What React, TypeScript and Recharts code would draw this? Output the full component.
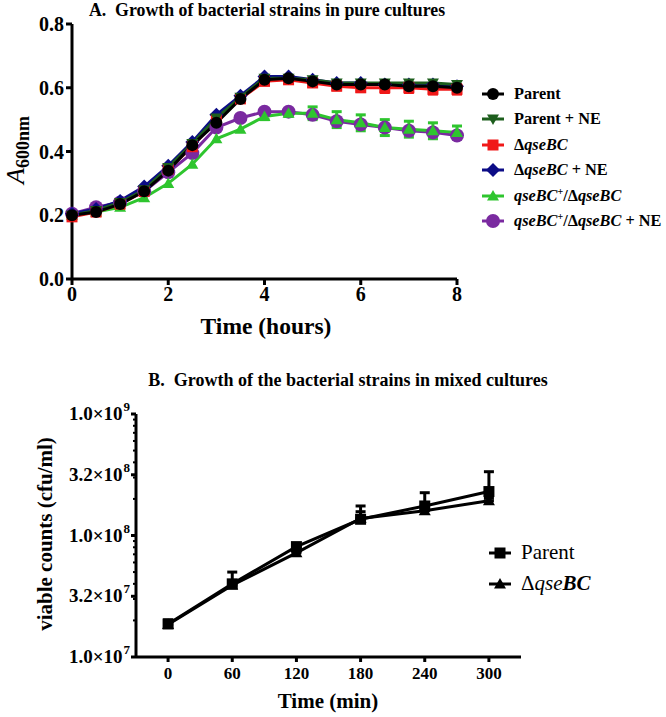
import React from 'react'
import { LineChart, Line, XAxis, YAxis, ErrorBar } from 'recharts'

const serif = "'Liberation Serif', 'DejaVu Serif', serif"

// panel A: absorbance in pure cultures
const hours = [0, 0.5, 1, 1.5, 2, 2.5, 3, 3.5, 4, 4.5, 5, 5.5, 6, 6.5, 7, 7.5, 8]
const parent = [0.2, 0.21, 0.235, 0.275, 0.34, 0.42, 0.49, 0.565, 0.625, 0.63, 0.62, 0.61, 0.61, 0.61, 0.605, 0.605, 0.6]
const parentNE = [0.2, 0.215, 0.24, 0.28, 0.35, 0.425, 0.505, 0.57, 0.63, 0.63, 0.625, 0.615, 0.615, 0.615, 0.615, 0.615, 0.61]
const dQse = [0.195, 0.21, 0.235, 0.275, 0.345, 0.415, 0.5, 0.565, 0.62, 0.625, 0.615, 0.605, 0.6, 0.6, 0.6, 0.595, 0.595]
const dQseErr = [0, 0, 0, 0, 0, 0, 0, 0, 0, 0, 0.01, 0.012, 0.012, 0.015, 0.015, 0.015, 0.015]
const dQseNE = [0.205, 0.22, 0.245, 0.29, 0.355, 0.43, 0.515, 0.575, 0.635, 0.635, 0.625, 0.615, 0.615, 0.61, 0.61, 0.61, 0.605]
const comp = [0.2, 0.21, 0.225, 0.255, 0.3, 0.36, 0.44, 0.47, 0.51, 0.52, 0.52, 0.5, 0.49, 0.475, 0.47, 0.465, 0.46]
const compErr = [0, 0, 0, 0, 0, 0, 0, 0, 0.01, 0.01, 0.02, 0.025, 0.025, 0.025, 0.025, 0.025, 0.02]
const compNE = [0.205, 0.225, 0.24, 0.275, 0.335, 0.395, 0.475, 0.505, 0.525, 0.525, 0.515, 0.495, 0.485, 0.475, 0.465, 0.46, 0.45]
const aTicks = [0, 0.2, 0.4, 0.6, 0.8]
const hourTicks = [0, 2, 4, 6, 8]

// panel B: viable counts in mixed cultures
const minutes = [0, 60, 120, 180, 240, 300]
const parentCfu = [1.87e7, 4.0e7, 8.1e7, 1.36e8, 1.75e8, 2.3e8]
const parentCfuErr = [0.15e7, 1.0e7, 0.2e7, 0.39e8, 0.5e8, 1.05e8]
const dQseCfu = [1.85e7, 3.9e7, 7.2e7, 1.38e8, 1.6e8, 1.93e8]
const dQseCfuErr = [0.1e7, 0.2e7, 0.2e7, 0.19e8, 0.1e8, 0.1e8]
const minuteTicks = [0, 60, 120, 180, 240, 300]
const cfuMajor = [1e7, 3.16e7, 1e8, 3.16e8, 1e9]
const cfuMantissa = ['1.0', '3.2', '1.0', '3.2', '1.0']
const cfuExponent = ['7', '7', '8', '8', '9']
const cfuMinor = [2e7, 3e7, 4e7, 5e7, 6e7, 7e7, 8e7, 9e7, 2e8, 3e8, 4e8, 5e8, 6e8, 7e8, 8e8, 9e8]

const dataA = hours.map((h, i) => ({
	h,
	parent: parent[i],
	parentNE: parentNE[i],
	dQse: dQse[i],
	dQseErr: dQseErr[i],
	dQseNE: dQseNE[i],
	comp: comp[i],
	compErr: compErr[i],
	compNE: compNE[i],
}))

const dataB = minutes.map((m, i) => ({
	m,
	parent: parentCfu[i],
	parentErr: [0, parentCfuErr[i]],
	dQse: dQseCfu[i],
	dQseErr: [0, dQseCfuErr[i]],
}))

type Kind = 'circle' | 'square' | 'diamond' | 'triUp' | 'triDown'

const Marker = ({ kind, cx, cy, fill, s }: { kind: Kind; cx: number; cy: number; fill: string; s: number }) => {
	if (cx == null || cy == null) return null
	if (kind === 'circle') return <circle cx={cx} cy={cy} r={s} fill={fill} />
	if (kind === 'square') return <rect x={cx - s} y={cy - s} width={s * 2} height={s * 2} fill={fill} />
	if (kind === 'diamond')
		return <polygon points={`${cx},${cy - s} ${cx + s},${cy} ${cx},${cy + s} ${cx - s},${cy}`} fill={fill} />
	if (kind === 'triUp')
		return <polygon points={`${cx},${cy - s} ${cx + s},${cy + s * 0.75} ${cx - s},${cy + s * 0.75}`} fill={fill} />
	return <polygon points={`${cx},${cy + s} ${cx + s},${cy - s * 0.75} ${cx - s},${cy - s * 0.75}`} fill={fill} />
}

const dotOf = (kind: Kind, fill: string, s: number) => (p: any) =>
	<Marker key={`d-${p.index}`} kind={kind} cx={p.cx} cy={p.cy} fill={fill} s={s} />

const LegendIcon = ({ kind, color, s }: { kind: Kind; color: string; s: number }) => (
	<svg width={26} height={18} style={{ display: 'block' }}>
		<line x1={2} x2={24} y1={9} y2={9} stroke={color} strokeWidth={3} />
		<Marker kind={kind} cx={13} cy={9} fill={color} s={s} />
	</svg>
)

const legendA = [
	{ kind: 'circle' as Kind, color: '#000000', s: 6, label: <b>Parent</b> },
	{ kind: 'triDown' as Kind, color: '#1d5e1d', s: 6, label: <b>Parent + NE</b> },
	{ kind: 'square' as Kind, color: '#f01818', s: 5.5, label: <b>Δ<i>qseBC</i></b> },
	{ kind: 'diamond' as Kind, color: '#0c0c86', s: 7, label: <b>Δ<i>qseBC</i> + NE</b> },
	{
		kind: 'triUp' as Kind,
		color: '#2ec52e',
		s: 6,
		label: (
			<b>
				<i>qseBC</i>
				<sup style={{ fontSize: 10 }}>+</sup>/Δ<i>qseBC</i>
			</b>
		),
	},
	{
		kind: 'circle' as Kind,
		color: '#7a2aa0',
		s: 7,
		label: (
			<b>
				<i>qseBC</i>
				<sup style={{ fontSize: 10 }}>+</sup>/Δ<i>qseBC</i> + NE
			</b>
		),
	},
]

const LogTick = (props: any) => {
	const { x, y, payload } = props
	const i = cfuMajor.indexOf(payload.value)
	if (i < 0) return <line x1={x} x2={x - 3} y1={y} y2={y} stroke='#000' strokeWidth={2} />
	return (
		<g>
			<line x1={x} x2={x - 5} y1={y} y2={y} stroke='#000' strokeWidth={3} />
			<text x={x - 6} y={y + 6} textAnchor='end' fontFamily={serif} fontWeight='bold' fontSize={19} fill='#000'>
				{cfuMantissa[i]}×10
				<tspan dx={1} dy={-9} fontSize={13}>
					{cfuExponent[i]}
				</tspan>
			</text>
		</g>
	)
}

const axisStyle = { stroke: '#000', strokeWidth: 3 }

export default function App() {
	return (
		<div style={{ position: 'absolute', left: 0, top: 0, width: 666, height: 717, fontFamily: serif, color: '#000' }}>
			<div style={{ position: 'absolute', left: 0, width: 534, top: 0, textAlign: 'center', fontSize: 17.8, fontWeight: 'bold', lineHeight: '20px' }}>
				A.&nbsp;&nbsp;Growth of bacterial strains in pure cultures
			</div>
			<div style={{ position: 'absolute', left: 0, top: 0 }}>
				<LineChart width={666} height={350} data={dataA} margin={{ top: 24, right: 209, bottom: 31, left: 22 }}>
					<XAxis
						dataKey='h'
						type='number'
						domain={[0, 8]}
						ticks={hourTicks}
						height={40}
						axisLine={axisStyle}
						tickLine={axisStyle}
						tickSize={6}
						tickMargin={2}
						tick={{ fontSize: 20, fontWeight: 'bold', fill: '#000', fontFamily: serif }}
					/>
					<YAxis
						type='number'
						domain={[0, 0.8]}
						ticks={aTicks}
						width={50}
						axisLine={axisStyle}
						tickLine={axisStyle}
						tickSize={6}
						tickMargin={2}
						tickFormatter={(v: number) => v.toFixed(1)}
						tick={{ fontSize: 20, fontWeight: 'bold', fill: '#000', fontFamily: serif }}
					/>
					<Line dataKey='compNE' stroke='#7a2aa0' strokeWidth={3} dot={dotOf('circle', '#7a2aa0', 7)} isAnimationActive={false} />
					<Line dataKey='comp' stroke='#2ec52e' strokeWidth={3} dot={dotOf('triUp', '#2ec52e', 6)} isAnimationActive={false}>
						<ErrorBar dataKey='compErr' width={5} strokeWidth={3} stroke='#2ec52e' direction='y' />
					</Line>
					<Line dataKey='dQseNE' stroke='#0c0c86' strokeWidth={3} dot={dotOf('diamond', '#0c0c86', 7)} isAnimationActive={false} />
					<Line dataKey='dQse' stroke='#f01818' strokeWidth={3} dot={dotOf('square', '#f01818', 5.5)} isAnimationActive={false}>
						<ErrorBar dataKey='dQseErr' width={5} strokeWidth={3} stroke='#f01818' direction='y' />
					</Line>
					<Line dataKey='parentNE' stroke='#1d5e1d' strokeWidth={3} dot={dotOf('triDown', '#1d5e1d', 6)} isAnimationActive={false} />
					<Line dataKey='parent' stroke='#000000' strokeWidth={3} dot={dotOf('circle', '#000000', 6)} isAnimationActive={false} />
				</LineChart>
			</div>
			<div
				style={{
					position: 'absolute',
					left: 16,
					top: 150,
					transform: 'translate(-50%, -50%) rotate(-90deg)',
					whiteSpace: 'nowrap',
					fontWeight: 'bold',
				}}
			>
				<i style={{ fontSize: 26, fontWeight: 'normal' }}>A</i>
				<span style={{ fontSize: 18, position: 'relative', top: 5 }}>600nm</span>
			</div>
			<div style={{ position: 'absolute', left: 166, width: 200, top: 313, textAlign: 'center', fontSize: 23.5, fontWeight: 'bold' }}>
				Time (hours)
			</div>
			<div style={{ position: 'absolute', left: 480, top: 81 }}>
				{legendA.map((e, i) => (
					<div key={i} style={{ display: 'flex', alignItems: 'center', height: 25.5, fontSize: 16.3, whiteSpace: 'nowrap' }}>
						<LegendIcon kind={e.kind} color={e.color} s={e.s} />
						<span style={{ marginLeft: 8 }}>{e.label}</span>
					</div>
				))}
			</div>

			<div style={{ position: 'absolute', left: 0, width: 696, top: 370, textAlign: 'center', fontSize: 18, fontWeight: 'bold' }}>
				B.&nbsp;&nbsp;Growth of the bacterial strains in mixed cultures
			</div>
			<div style={{ position: 'absolute', left: 0, top: 370 }}>
				<LineChart width={666} height={347} data={dataB} margin={{ top: 44, right: 145, bottom: 20, left: 36 }}>
					<XAxis
						dataKey='m'
						type='number'
						domain={[-30, 330]}
						ticks={minuteTicks}
						height={40}
						axisLine={axisStyle}
						tickLine={axisStyle}
						tickSize={5}
						tickMargin={5}
						tick={{ fontSize: 17, fontWeight: 'bold', fill: '#000', fontFamily: serif }}
					/>
					<YAxis
						type='number'
						scale='log'
						domain={[1e7, 1e9]}
						allowDataOverflow
						ticks={[...cfuMajor, ...cfuMinor]}
						interval={0}
						width={100}
						axisLine={axisStyle}
						tickLine={false}
						tickSize={0}
						tickMargin={0}
						tick={<LogTick />}
					/>
					<Line dataKey='dQse' stroke='#000' strokeWidth={3} dot={dotOf('triUp', '#000', 6)} isAnimationActive={false}>
						<ErrorBar dataKey='dQseErr' width={5} strokeWidth={3} stroke='#000' direction='y' />
					</Line>
					<Line dataKey='parent' stroke='#000' strokeWidth={3} dot={dotOf('square', '#000', 5.5)} isAnimationActive={false}>
						<ErrorBar dataKey='parentErr' width={5} strokeWidth={3} stroke='#000' direction='y' />
					</Line>
				</LineChart>
			</div>
			<div
				style={{
					position: 'absolute',
					left: 45,
					top: 534,
					transform: 'translate(-50%, -50%) rotate(-90deg)',
					whiteSpace: 'nowrap',
					fontWeight: 'bold',
					fontSize: 21,
				}}
			>
				viable counts (cfu/ml)
			</div>
			<div style={{ position: 'absolute', left: 228, width: 200, top: 689, textAlign: 'center', fontSize: 21, fontWeight: 'bold' }}>
				Time (min)
			</div>
			<div style={{ position: 'absolute', left: 487, top: 537 }}>
				{[
					{ kind: 'square' as Kind, label: <span>Parent</span> },
					{ kind: 'triUp' as Kind, label: <span>Δ<i>qse</i><b><i>BC</i></b></span> },
				].map((e, i) => (
					<div key={i} style={{ display: 'flex', alignItems: 'center', height: 31, fontSize: 21, whiteSpace: 'nowrap' }}>
						<LegendIcon kind={e.kind} color='#000' s={e.kind === 'square' ? 5.5 : 6} />
						<span style={{ marginLeft: 8 }}>{e.label}</span>
					</div>
				))}
			</div>
		</div>
	)
}
